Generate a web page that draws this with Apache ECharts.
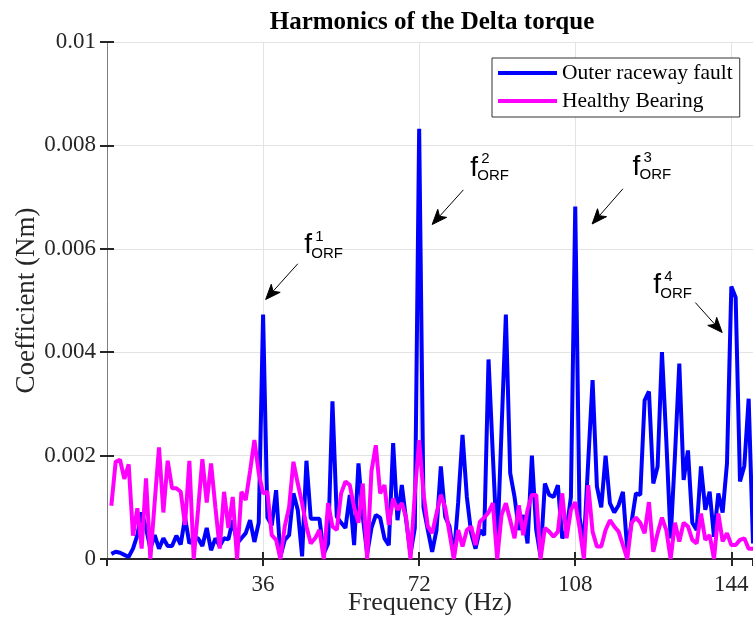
<!DOCTYPE html>
<html>
<head>
<meta charset="utf-8">
<script src="https://cdn.jsdelivr.net/npm/echarts@6/dist/echarts.min.js"></script>
<style>
html,body{margin:0;padding:0;background:#fff;}
#main{width:753px;height:632px;}
</style>
</head>
<body>
<div id="main"></div>
<script>
// frequency bins (Hz)
var freq = [1,2,3,4,5,6,7,8,9,10,11,12,13,14,15,16,17,18,19,20,
	21,22,23,24,25,26,27,28,29,30,31,32,33,34,35,36,37,38,39,40,
	41,42,43,44,45,46,47,48,49,50,51,52,53,54,55,56,57,58,59,60,
	61,62,63,64,65,66,67,68,69,70,71,72,73,74,75,76,77,78,79,80,
	81,82,83,84,85,86,87,88,89,90,91,92,93,94,95,96,97,98,99,100,
	101,102,103,104,105,106,107,108,109,110,111,112,113,114,115,116,117,118,119,120,
	121,122,123,124,125,126,127,128,129,130,131,132,133,134,135,136,137,138,139,140,
	141,142,143,144,145,146,147,148,149];

// outer raceway fault
var faultCoef = [0.00010,0.00014,0.00012,0.00008,0.00004,0.00020,0.00046,0.00090,0.00060,0.00020,
	0.00046,0.00020,0.00040,0.00025,0.00025,0.00045,0.00028,0.00080,0.00030,0.00040,
	0.00040,0.00025,0.00060,0.00017,0.00040,0.00025,0.00040,0.00038,0.00075,0.00030,
	0.00040,0.00050,0.00075,0.00033,0.00070,0.00473,0.00080,0.00065,0.00133,0.00005,
	0.00037,0.00046,0.00127,0.00095,0.00005,0.00190,0.00078,0.00078,0.00078,0.00010,
	0.00030,0.00305,0.00082,0.00070,0.00060,0.00124,0.00027,0.00185,0.00082,0.00010,
	0.00060,0.00085,0.00080,0.00040,0.00027,0.00224,0.00075,0.00143,0.00075,0.00010,
	0.00060,0.00832,0.00100,0.00056,0.00014,0.00056,0.00179,0.00082,0.00063,0.00005,
	0.00110,0.00240,0.00120,0.00050,0.00020,0.00056,0.00046,0.00386,0.00200,0.00020,
	0.00250,0.00473,0.00166,0.00120,0.00056,0.00085,0.00030,0.00200,0.00056,0.00005,
	0.00146,0.00124,0.00120,0.00143,0.00040,0.00056,0.00120,0.00682,0.00080,0.00030,
	0.00190,0.00346,0.00140,0.00100,0.00200,0.00108,0.00090,0.00104,0.00130,0.00017,
	0.00072,0.00127,0.00124,0.00307,0.00324,0.00146,0.00179,0.00400,0.00230,0.00040,
	0.00200,0.00378,0.00153,0.00210,0.00070,0.00056,0.00179,0.00095,0.00130,0.00043,
	0.00127,0.00090,0.00185,0.00527,0.00506,0.00150,0.00180,0.00310,0.00030];

// healthy bearing
var healthyCoef = [0.00103,0.00188,0.00192,0.00155,0.00183,0.00045,0.00098,0.00020,0.00156,0,
	0.00110,0.00216,0.00090,0.00190,0.00137,0.00137,0.00130,0.00066,0.00190,0,
	0.00095,0.00193,0.00109,0.00185,0.00100,0.00020,0.00130,0.00060,0.00120,0,
	0.00130,0.00114,0.00170,0.00230,0.00166,0.00127,0.00130,0.00046,0.00037,0,
	0.00063,0.00100,0.00188,0.00146,0.00108,0.00063,0.00030,0.00040,0.00056,0,
	0.00108,0.00063,0.00056,0.00127,0.00150,0.00143,0.00100,0.00070,0.00146,0,
	0.00170,0.00220,0.00127,0.00143,0.00066,0.00117,0.00095,0.00108,0.00080,0,
	0.00127,0.00230,0.00127,0.00063,0.00050,0.00088,0.00124,0.00100,0.00050,0,
	0.00056,0.00024,0.00056,0.00063,0.00027,0.00072,0.00080,0.00090,0.00108,0,
	0.00085,0.00108,0.00075,0.00040,0.00104,0.00046,0.00095,0.00124,0.00124,0,
	0.00060,0.00053,0.00043,0.00053,0.00127,0.00040,0.00095,0.00110,0.00060,0,
	0.00143,0.00053,0.00024,0.00024,0.00056,0.00075,0.00063,0.00053,0.00027,0,
	0.00070,0.00080,0.00070,0.00050,0.00110,0.00014,0.00050,0.00080,0.00056,0,
	0.00070,0.00034,0.00070,0.00063,0.00037,0.00030,0.00088,0.00037,0.00046,0,
	0.00088,0.00034,0.00050,0.00027,0.00027,0.00037,0.00040,0.00020,0.00020];

var yTickLabels = ['0', '0.002', '0.004', '0.006', '0.008', '0.01'];
var seriesNames = ['Outer raceway fault', 'Healthy Bearing'];

// annotations f^n_ORF (data coordinates)
var harmonicOrder = ['1', '2', '3', '4'];
var arrowTail = [[44.0, 0.00571], [82.2, 0.00714], [119.0, 0.00716], [135.7, 0.00496]];
var arrowTip = [[36.6, 0.00502], [75.0, 0.00647], [111.9, 0.00648], [141.9, 0.00438]];
var labelAnchor = [[45.5, 0.00606], [83.8, 0.00756], [121.2, 0.00758], [126.0, 0.00529]];

function pairs(xs, ys) {
	var out = [];
	for (var i = 0; i < xs.length; i++) out.push([xs[i], ys[i]]);
	return out;
}

var serif = 'Liberation Serif';
var dark = '#262626';

var myChart = echarts.init(document.getElementById('main'));
var option = {
	backgroundColor: '#fff',
	animation: false,
	title: {
		text: 'Harmonics of the Delta torque',
		left: 427,
		textAlign: 'center',
		top: 5,
		textStyle: {fontFamily: serif, fontSize: 25, fontWeight: 'bold', color: '#000'}
	},
	legend: {
		orient: 'vertical',
		left: 492,
		top: 58,
		padding: [4, 7, 5, 6],
		itemGap: 6,
		itemWidth: 59,
		itemHeight: 4,
		borderColor: '#333',
		borderWidth: 1,
		backgroundColor: '#fff',
		textStyle: {fontFamily: serif, fontSize: 21.5, color: '#000', lineHeight: 22},
		data: [{name: seriesNames[0], icon: 'rect'}, {name: seriesNames[1], icon: 'rect'}]
	},
	grid: {left: 107, right: 0, top: 42, bottom: 73},
	xAxis: [{
		type: 'value',
		min: 0,
		max: 149,
		interval: 36,
		name: 'Frequency (Hz)',
		nameLocation: 'middle',
		nameGap: 31,
		nameMoveOverlap: false,
		nameTextStyle: {fontFamily: serif, fontSize: 26, color: dark},
		axisLine: {show: true, lineStyle: {color: dark, width: 2}},
		axisTick: {show: true, inside: true, length: 7, lineStyle: {color: dark, width: 2}},
		axisLabel: {showMinLabel: false, showMaxLabel: false, margin: 14, fontFamily: serif, fontSize: 23, color: dark},
		splitLine: {show: true, lineStyle: {color: '#e3e3e3', width: 1}}
	}, {
		type: 'value',
		position: 'top',
		min: 0,
		max: 149,
		interval: 36,
		axisLine: {show: true, lineStyle: {color: dark, width: 2}},
		axisTick: {show: true, inside: true, length: 7, lineStyle: {color: dark, width: 2}},
		axisLabel: {show: false},
		splitLine: {show: false}
	}],
	yAxis: [{
		type: 'value',
		min: 0,
		max: 0.01,
		interval: 0.002,
		name: 'Coefficient (Nm)',
		nameLocation: 'middle',
		nameGap: 67,
		nameMoveOverlap: false,
		nameTextStyle: {fontFamily: serif, fontSize: 27, color: dark},
		axisLine: {show: true, lineStyle: {color: '#7f7f7f', width: 1}},
		axisTick: {show: true, inside: true, length: 7, lineStyle: {color: dark, width: 2}},
		axisLabel: {
			margin: 11,
			fontFamily: serif, fontSize: 23, color: dark,
			formatter: function(v) { return yTickLabels[Math.round(v / 0.002)]; }
		},
		splitLine: {show: true, lineStyle: {color: '#e3e3e3', width: 1}}
	}, {
		type: 'value',
		position: 'right',
		min: 0,
		max: 0.01,
		interval: 0.002,
		axisLine: {show: false},
		axisTick: {show: true, inside: true, length: 7, lineStyle: {color: dark, width: 2}},
		axisLabel: {show: false},
		splitLine: {show: false}
	}],
	series: [{
		name: seriesNames[0],
		type: 'line',
		showSymbol: false,
		color: '#0000ff',
		lineStyle: {width: 4, color: '#0000ff'},
		data: pairs(freq, faultCoef)
	}, {
		name: seriesNames[1],
		type: 'line',
		showSymbol: false,
		color: '#ff00ff',
		lineStyle: {width: 4, color: '#ff00ff'},
		data: pairs(freq, healthyCoef)
	}]
};
myChart.setOption(option);

// annotations: arrows and f^n_ORF labels
function toPx(p) {
	return myChart.convertToPixel({xAxisIndex: 0, yAxisIndex: 0}, p);
}
var elements = [];
for (var k = 0; k < harmonicOrder.length; k++) {
	var t = toPx(arrowTail[k]);
	var h = toPx(arrowTip[k]);
	var dx = h[0] - t[0], dy = h[1] - t[1];
	var L = Math.sqrt(dx * dx + dy * dy);
	var ux = dx / L, uy = dy / L, px = -uy, py = ux;
	var len = 15, half = 6, notch = 4;
	var bx = h[0] - ux * len, by = h[1] - uy * len;
	var nx = h[0] - ux * (len - notch), ny = h[1] - uy * (len - notch);
	elements.push({
		type: 'polyline',
		shape: {points: [t, [nx, ny]]},
		style: {stroke: '#000', lineWidth: 1, fill: null},
		z: 100
	});
	elements.push({
		type: 'polygon',
		shape: {points: [h, [bx + px * half, by + py * half], [nx, ny], [bx - px * half, by - py * half]]},
		style: {fill: '#000', stroke: '#000', lineWidth: 1},
		z: 100
	});
	var a = toPx(labelAnchor[k]);
	elements.push({
		type: 'text', x: a[0], y: a[1], z: 100,
		style: {text: 'f', font: '28px "Liberation Sans"', fill: '#000', align: 'left', verticalAlign: 'middle'}
	});
	elements.push({
		type: 'text', x: a[0] + 11, y: a[1] - 9, z: 100,
		style: {text: harmonicOrder[k], font: '15px "Liberation Sans"', fill: '#000', align: 'left', verticalAlign: 'middle'}
	});
	elements.push({
		type: 'text', x: a[0] + 7, y: a[1] + 8, z: 100,
		style: {text: 'ORF', font: '15px "Liberation Sans"', fill: '#000', align: 'left', verticalAlign: 'middle'}
	});
}
myChart.setOption({graphic: {elements: elements}});
</script>
</body>
</html>
